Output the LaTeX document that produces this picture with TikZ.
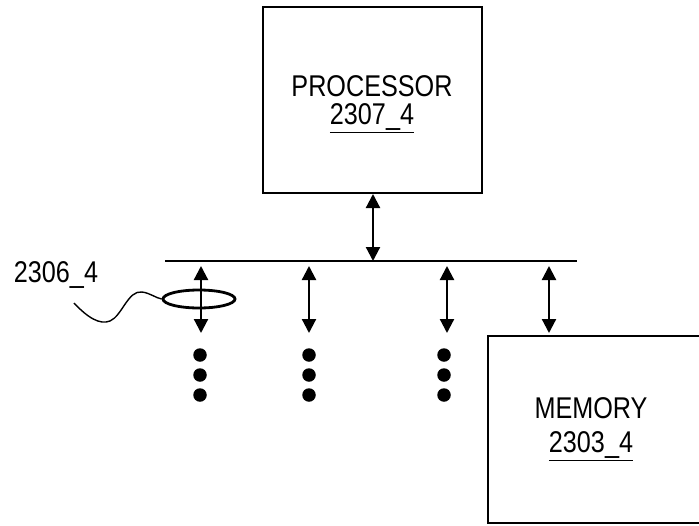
\documentclass[tikz,border=0pt]{standalone}
\usepackage{fontspec}
\setmainfont{Liberation Sans}
\usetikzlibrary{arrows.meta,shapes.geometric}
\tikzset{
  blk/.style={draw, line width=2.3pt},
  lbl/.style={font=\fontsize{30}{34}\selectfont, xscale=0.84, inner sep=0pt, align=center},
  busarrow/.style={line width=2.2pt, {Triangle[length=14pt,width=14pt]}-{Triangle[length=14pt,width=14pt]}},
  dotc/.style={circle, fill=black, minimum size=13.5pt, inner sep=0pt},
  busline/.style={line width=2.3pt}
}
\begin{document}
\begin{tikzpicture}[x=1pt,y=-1pt]
\useasboundingbox (0,0) rectangle (699,525);
\clip (0,0) rectangle (699,525);
% processor
\draw[blk] (263,7) rectangle (482,193);
\node[lbl] (proc) at (372,86) {PROCESSOR};
\node[lbl] (procn) at (372,118) {\underline{2307\_4}};
% memory
\draw[blk] (488,336) rectangle (720,523);
\node[lbl] (mem) at (591,408) {MEMORY};
\node[lbl] (memn) at (591,446) {\underline{2303\_4}};
% bus
\coordinate (busL) at (165,261);
\coordinate (busR) at (577,261);
\draw[busline] (busL) -- (busR);
% processor to bus
\coordinate (pa) at (373,194);
\coordinate (pb) at (373,261);
\draw[busarrow] (pa) -- (pb);
% drops
\foreach \x/\n in {201/a,309/b,447/c,549/d}{
  \coordinate (t\n) at (\x,266);
  \coordinate (b\n) at (\x,333);
  \draw[busarrow] (t\n) -- (b\n);
}
% dots
\foreach \x/\n in {200/a,309/b,444/c}{
  \node[dotc] (d1\n) at (\x,355) {};
  \node[dotc] (d2\n) at (\x,375) {};
  \node[dotc] (d3\n) at (\x,395) {};
}
% ellipse
\node[draw, ellipse, line width=2.8pt, minimum width=72pt, minimum height=18pt, inner sep=0pt] (ell) at (199,299) {};
% label
\node[lbl] (lab) at (56,275) {2306\_4};
\draw[line width=1.4pt] (74,303) .. controls (88,318) and (100,325) .. (110,321) .. controls (122,316) and (128,290) .. (142,292) .. controls (150,293) and (156,298) .. (ell.west);
\end{tikzpicture}
\end{document}
